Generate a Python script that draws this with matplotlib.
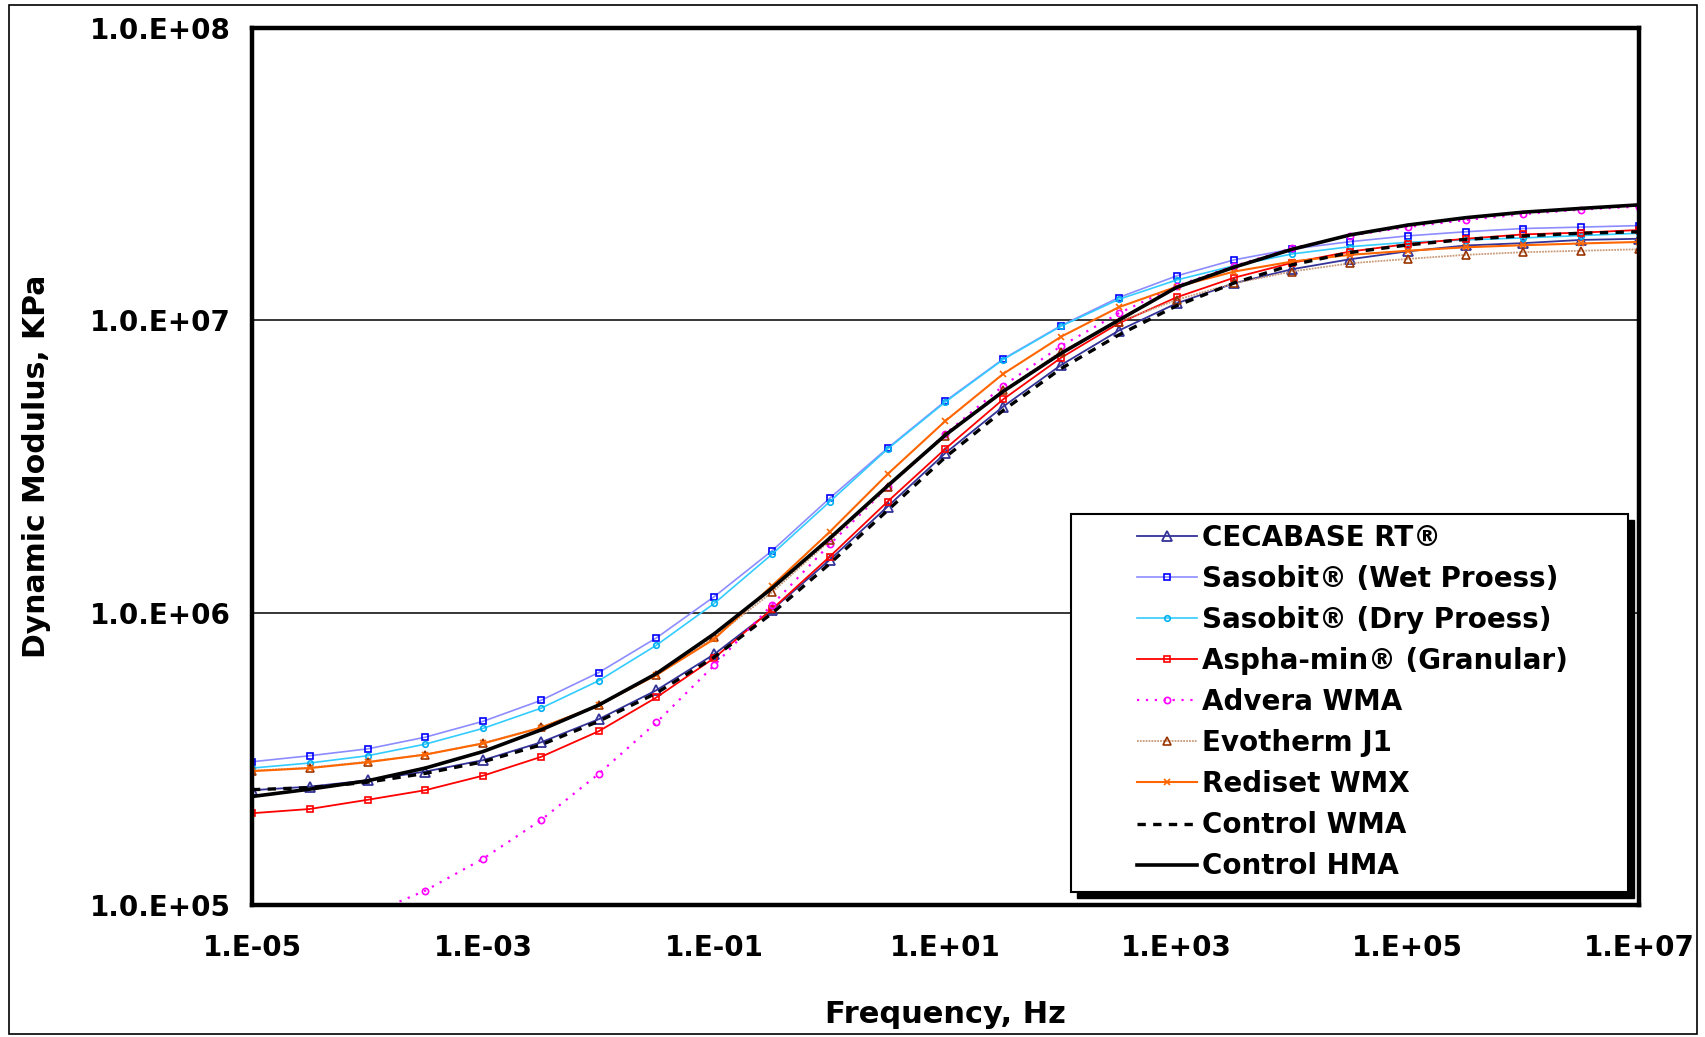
import numpy as np
import matplotlib.pyplot as plt
from matplotlib.ticker import FixedLocator, FuncFormatter, NullLocator
from matplotlib.patches import Rectangle

# frequencies (Hz), half-decade steps from 1e-5 to 1e7
freq = [1e-5, 3.16e-5, 1e-4, 3.16e-4, 1e-3, 3.16e-3, 1e-2, 3.16e-2, 1e-1, 3.16e-1,
        1e0, 3.16e0, 1e1, 3.16e1, 1e2, 3.16e2, 1e3, 3.16e3, 1e4, 3.16e4,
        1e5, 3.16e5, 1e6, 3.16e6, 1e7]

# dynamic modulus master curves, kPa
cecabase = [247000, 254000, 267000, 286000, 313000, 360000, 432000, 543000, 721000, 1023000,
            1517000, 2307000, 3516000, 5070000, 7031000, 9226000, 11430000, 13400000, 14960000, 16180000,
            17220000, 18030000, 18370000, 18840000, 19010000]
sasobit_wet = [309000, 324000, 342000, 375000, 425000, 501000, 624000, 820000, 1135000, 1629000,
               2466000, 3656000, 5297000, 7379000, 9594000, 11970000, 14190000, 16110000, 17540000, 18580000,
               19450000, 20090000, 20610000, 20840000, 21090000]
sasobit_dry = [294000, 306000, 324000, 355000, 402000, 471000, 585000, 774000, 1076000, 1585000,
               2399000, 3631000, 5260000, 7345000, 9550000, 11800000, 13740000, 15380000, 16870000, 17860000,
               18490000, 18840000, 19140000, 19500000, 19860000]
aspha_min = [206000, 213000, 229000, 247000, 277000, 321000, 393000, 513000, 700000, 1028000,
             1556000, 2399000, 3639000, 5370000, 7447000, 9772000, 11990000, 14000000, 15740000, 17180000,
             18240000, 19010000, 19680000, 19950000, 20370000]
advera = [63100, 75900, 92300, 112000, 144000, 195000, 281000, 421000, 661000, 1064000,
          1714000, 2685000, 4093000, 5970000, 8166000, 10570000, 13120000, 15350000, 17660000, 19500000,
          20840000, 22030000, 23070000, 23930000, 24490000]
evotherm = [288000, 295000, 309000, 327000, 358000, 405000, 483000, 612000, 824000, 1175000,
            1766000, 2685000, 4027000, 5754000, 7816000, 9908000, 11750000, 13400000, 14690000, 15670000,
            16220000, 16750000, 17100000, 17300000, 17500000]
rediset = [287000, 294000, 308000, 327000, 357000, 404000, 482000, 612000, 813000, 1236000,
           1892000, 2979000, 4529000, 6561000, 8790000, 11090000, 13030000, 14690000, 15890000, 16750000,
           17300000, 17780000, 18070000, 18320000, 18540000]
control_wma = [248000, 252000, 263000, 282000, 309000, 353000, 425000, 531000, 705000, 995000,
               1472000, 2239000, 3404000, 4920000, 6839000, 8913000, 11220000, 13430000, 15490000, 17060000,
               18110000, 18920000, 19450000, 19860000, 20090000]
control_hma = [235000, 249000, 266000, 294000, 335000, 397000, 483000, 619000, 847000, 1213000,
               1799000, 2716000, 4055000, 5715000, 7709000, 10020000, 12970000, 15210000, 17500000, 19590000,
               21180000, 22440000, 23440000, 24150000, 24830000]

x_ticks = [1e-5, 1e-3, 1e-1, 1e1, 1e3, 1e5, 1e7]
y_ticks = [1e5, 1e6, 1e7, 1e8]

plt.rcParams['font.family'] = ['DejaVu Sans']
plt.rcParams['font.weight'] = 'bold'

fig = plt.figure(figsize=(17.06, 10.37), dpi=100)
ax = fig.add_axes([0.1477, 0.1273, 0.8130, 0.8457])

# figure border
fig.patches.append(Rectangle((0.0053, 0.003), 0.9894, 0.992, transform=fig.transFigure,
                             fill=False, edgecolor='black', linewidth=1.2))

ax.plot(freq, cecabase, color='#333399', lw=1.3, marker='^', ms=7.5, mfc='none', mec='#333399',
        mew=1.3, label='CECABASE RT®')
ax.plot(freq, sasobit_wet, color='#8c8cff', lw=1.2, marker='s', ms=4, mfc='none', mec='#0000ff',
        mew=1.2, label='Sasobit® (Wet Proess)')
ax.plot(freq, sasobit_dry, color='#33ccff', lw=1.2, marker='o', ms=4, mfc='none', mec='#00b0f0',
        mew=1.2, label='Sasobit® (Dry Proess)')
ax.plot(freq, aspha_min, color='#ff0000', lw=1.3, marker='s', ms=4.5, mfc='none', mec='#ff0000',
        mew=1.2, label='Aspha-min® (Granular)')
ax.plot(freq, advera, color='#ff00ff', lw=1.6, ls=(0, (1, 3)), marker='o', ms=4.5, mfc='none',
        mec='#ff00ff', mew=1.2, label='Advera WMA')
ax.plot(freq, evotherm, color='#c89a78', lw=1.3, ls=(0, (1, 0.6)), marker='^', ms=5.5, mfc='none',
        mec='#993300', mew=1.2, label='Evotherm J1')
ax.plot(freq, rediset, color='#ff6600', lw=1.5, marker='x', ms=4, mec='#ff6600', mew=1.2,
        label='Rediset WMX')
ax.plot(freq, control_wma, color='black', lw=2.4, ls=(0, (2.5, 2.2)), label='Control WMA')
ax.plot(freq, control_hma, color='black', lw=2.6, label='Control HMA')

ax.set_xscale('log')
ax.set_yscale('log')
ax.set_xlim(1e-5, 1e7)
ax.set_ylim(1e5, 1e8)

ax.xaxis.set_major_locator(FixedLocator(x_ticks))
ax.xaxis.set_minor_locator(NullLocator())
ax.yaxis.set_major_locator(FixedLocator(y_ticks))
ax.yaxis.set_minor_locator(NullLocator())
ax.xaxis.set_major_formatter(FuncFormatter(lambda v, p: '1.E%+03d' % int(round(np.log10(v)))))
ax.yaxis.set_major_formatter(FuncFormatter(lambda v, p: '1.0.E%+03d' % int(round(np.log10(v)))))
ax.tick_params(axis='x', length=0, pad=21, labelsize=20)
ax.tick_params(axis='y', length=0, pad=15, labelsize=20)

ax.grid(True, axis='y', which='major', color='black', lw=1.1)
for s in ax.spines.values():
    s.set_linewidth(3.2)
    s.set_color('black')

ax.set_xlabel('Frequency, Hz', fontsize=22, fontweight='bold')
ax.set_ylabel('Dynamic Modulus, KPa', fontsize=21.5, fontweight='bold')
ax.xaxis.set_label_coords(0.5, -0.108)
ax.yaxis.set_label_coords(-0.145, 0.5)

# legend box with a solid drop shadow
ax.add_patch(Rectangle((0.5948, 0.0080), 0.4015, 0.431, transform=ax.transAxes,
                       facecolor='black', edgecolor='black', zorder=9, clip_on=False))
ax.add_patch(Rectangle((0.5905, 0.0148), 0.4015, 0.431, transform=ax.transAxes,
                       facecolor='white', edgecolor='black', lw=1.5, zorder=10, clip_on=False))
leg = ax.legend(loc='upper left', bbox_to_anchor=(0.638, 0.4346), frameon=False,
                borderpad=0, borderaxespad=0, handlelength=2.15, handletextpad=0.2,
                labelspacing=0.47, prop={'weight': 'bold', 'size': 20})
leg.set_zorder(11)

fig.savefig('out.png', dpi=100)
